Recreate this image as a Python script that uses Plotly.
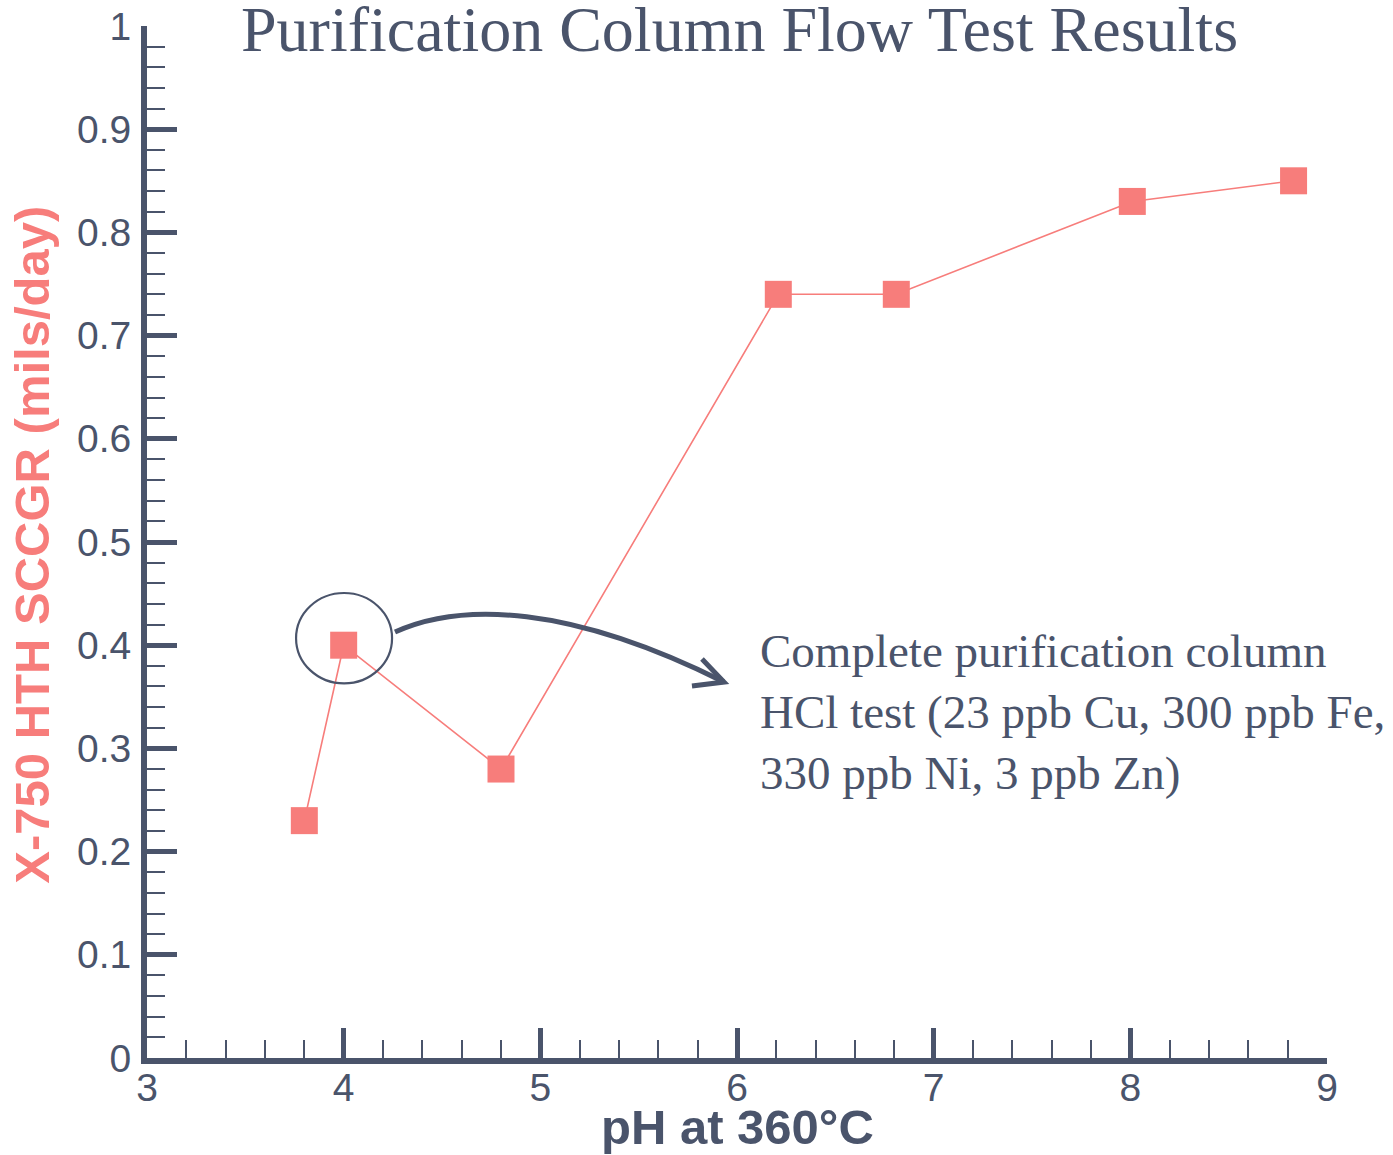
import plotly.graph_objects as go

# Data
ph = [3.80, 4.00, 4.80, 6.21, 6.81, 8.01, 8.83]
sccgr = [0.23, 0.40, 0.28, 0.74, 0.74, 0.83, 0.85]

title_text = "Purification Column Flow Test Results"
x_title = "pH at 360°C"
y_title = "X-750 HTH SCCGR (mils/day)"
note_text = "Complete purification column<br>HCl test (23 ppb Cu, 300 ppb Fe,<br>330 ppb Ni, 3 ppb Zn)"

x_ticks = [3, 4, 5, 6, 7, 8, 9]
y_ticks = [0, 0.1, 0.2, 0.3, 0.4, 0.5, 0.6, 0.7, 0.8, 0.9, 1]

DARK = "#4a546b"
SALMON = "#f77d7b"

fig = go.Figure()
fig.add_trace(go.Scatter(
    x=ph, y=sccgr, mode="lines+markers",
    line=dict(color=SALMON, width=1.6),
    marker=dict(symbol="square", size=27, color=SALMON),
    showlegend=False, cliponaxis=False,
))

axis_common = dict(
    showline=True, linecolor=DARK, linewidth=6,
    ticks="inside", ticklen=30, tickwidth=5, tickcolor=DARK,
    showgrid=False, zeroline=False, automargin=False,
    tickfont=dict(family="Arial, Liberation Sans, sans-serif", size=39, color=DARK),
)

fig.update_xaxes(
    range=[3, 9], tickvals=x_ticks, ticktext=[str(v) for v in x_ticks],
    minor=dict(ticks="inside", ticklen=18, tickwidth=2, tickcolor=DARK, dtick=0.2, tick0=3, showgrid=False),
    ticklabelstandoff=-10,
    **axis_common,
)
fig.update_yaxes(
    range=[0, 1], tickvals=y_ticks, ticktext=[f"{v:g}" for v in y_ticks],
    minor=dict(ticks="inside", ticklen=18, tickwidth=2, tickcolor=DARK, dtick=0.02, tick0=0, showgrid=False),
    ticklabelstandoff=2,
    **axis_common,
)

# circle around the highlighted point
fig.add_shape(type="circle", xref="x", yref="y",
              x0=3.758, x1=4.246, y0=0.363, y1=0.4506,
              line=dict(color=DARK, width=2.2))
# curved arrow
fig.add_shape(type="path", xref="x", yref="y",
              path="M 4.261,0.4128 C 4.600,0.4420 5.150,0.4390 5.934,0.3643",
              line=dict(color=DARK, width=5))
fig.add_shape(type="path", xref="x", yref="y",
              path="M 5.822,0.3866 L 5.934,0.3643 L 5.771,0.3605",
              line=dict(color=DARK, width=5))

fig.add_annotation(text=note_text, xref="x", yref="y", x=6.107, y=0.335,
                   xanchor="left", yanchor="middle", align="left", showarrow=False,
                   font=dict(family="Liberation Serif, Times New Roman, serif", size=47, color=DARK))

fig.add_annotation(text=title_text, xref="paper", yref="paper", x=0.5025, y=0.997,
                   xanchor="center", yanchor="middle", showarrow=False,
                   font=dict(family="Liberation Serif, Times New Roman, serif", size=64, color=DARK))

fig.add_annotation(text=f"<b>{x_title}</b>", xref="paper", yref="paper", x=0.5, y=-0.067,
                   xanchor="center", yanchor="middle", showarrow=False,
                   font=dict(family="Arial, Liberation Sans, sans-serif", size=49, color=DARK))

fig.add_annotation(text=f"<b>{y_title}</b>", xref="paper", yref="paper", x=-0.097, y=0.497,
                   xanchor="center", yanchor="middle", showarrow=False, textangle=-90,
                   font=dict(family="Arial, Liberation Sans, sans-serif", size=49, color=SALMON))

fig.update_layout(
    width=1393, height=1155,
    margin=dict(l=147, r=66, t=26, b=97),
    paper_bgcolor="white", plot_bgcolor="white",
)

fig.write_html("out.html")
